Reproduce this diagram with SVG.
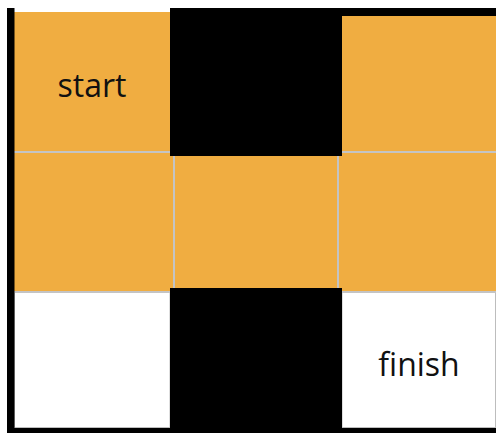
<svg xmlns="http://www.w3.org/2000/svg" width="496" height="433" viewBox="0 0 496 433">
<style>
.o{fill:#F0AD41}
.b{fill:#000}
.w{fill:#fff;stroke:#bdbdbd;stroke-width:1}
.g{stroke:#c4c4c4;stroke-width:2;fill:none}
.t{font-family:"Open Sans","Liberation Sans",sans-serif;font-size:32px;fill:#111;text-anchor:middle}
</style>
<rect width="496" height="433" fill="#fff"/>
<g id="cell-r1-c1"><rect class="o" x="14" y="12" width="156" height="140"/><text class="t" x="92" y="97">start</text></g>
<g id="cell-r1-c3"><rect class="o" x="342" y="16" width="154" height="136"/></g>
<g id="row2"><rect class="o" x="14" y="152" width="482" height="140"/></g>
<g id="cell-r3-c1"><rect class="w" x="14.5" y="292.5" width="155.5" height="135"/></g>
<g id="cell-r3-c3"><rect class="w" x="342" y="292.5" width="153.5" height="135"/><text class="t" x="419" y="376">finish</text></g>
<g id="connectors">
<line class="g" x1="7" y1="152" x2="496" y2="152"/>
<line class="g" x1="7" y1="292" x2="496" y2="292"/>
<line class="g" x1="174" y1="152" x2="174" y2="292"/>
<line class="g" x1="338" y1="152" x2="338" y2="292"/>
</g>
<g id="cell-r1-c2"><rect class="b" x="170" y="8" width="172" height="148"/></g>
<g id="cell-r3-c2"><rect class="b" x="170" y="288" width="172" height="145"/></g>
<g id="border">
<rect class="b" x="342" y="8" width="154" height="8"/>
<rect class="b" x="7" y="8" width="7.5" height="425"/>
<rect class="b" x="14" y="428" width="482" height="5"/>
</g>
</svg>
